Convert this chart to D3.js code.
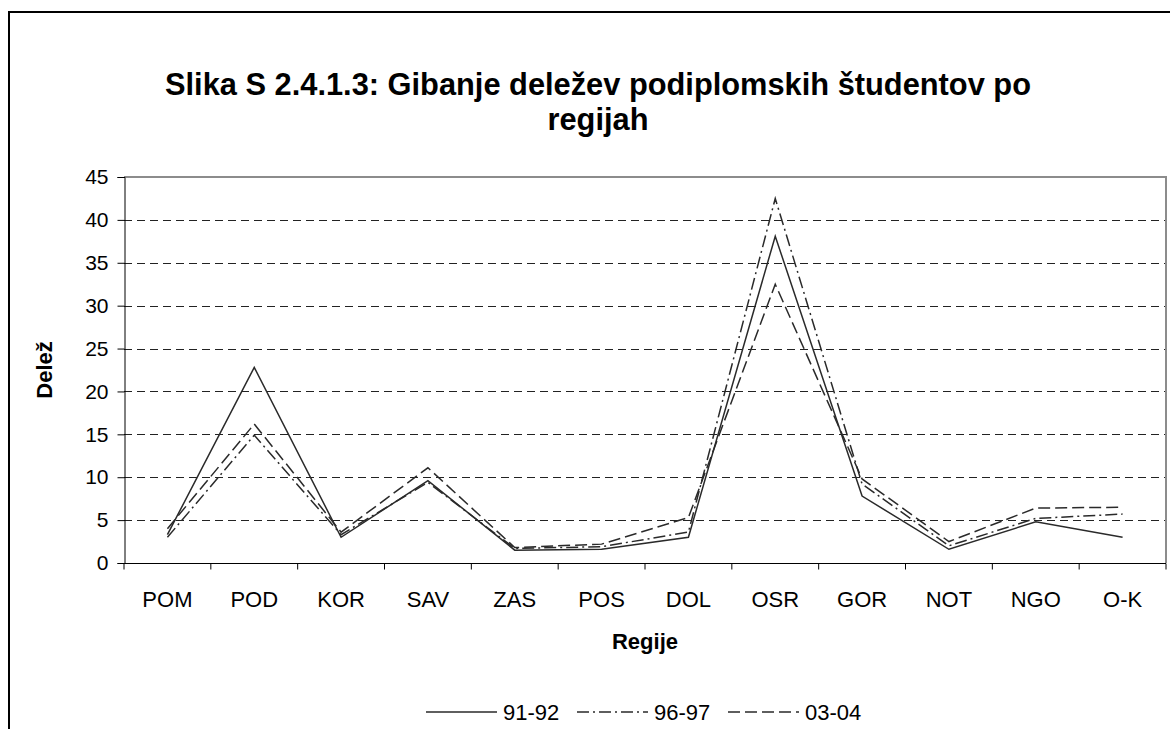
<!DOCTYPE html>
<html>
<head>
<meta charset="utf-8">
<script src="https://cdn.jsdelivr.net/npm/d3@7"></script>
<style>
  body { margin: 0; background: #fff; }
  svg { display: block; font-family: "Liberation Sans", Arial, sans-serif; }
</style>
</head>
<body>
<script>
'use strict';

// regions on the x axis
const regions = ["POM", "POD", "KOR", "SAV", "ZAS", "POS", "DOL", "OSR", "GOR", "NOT", "NGO", "O-K"];
// shares per year
const s9192 = [3.3, 22.8, 3.0, 9.6, 1.5, 1.6, 3.0, 38.1, 7.8, 1.6, 4.8, 3.0];
const s9697 = [3.0, 14.9, 3.3, 9.4, 1.7, 1.9, 3.6, 42.5, 9.2, 2.0, 5.2, 5.7];
const s0304 = [4.0, 16.2, 3.6, 11.1, 1.8, 2.2, 5.3, 32.5, 9.8, 2.5, 6.4, 6.5];
const seriesNames = ["91-92", "96-97", "03-04"];
const yTicks = [0, 5, 10, 15, 20, 25, 30, 35, 40, 45];

const W = 1170, H = 729;
const plot = {left: 124, right: 1166, top: 177, bottom: 563};
const font = "'Liberation Sans', Arial, sans-serif";

const svg = d3.select("body").append("svg")
  .attr("width", W)
  .attr("height", H);

// outer chart border (right and bottom lie outside the picture)
svg.append("path")
  .attr("d", `M9,${H + 5}V12H${W + 5}`)
  .attr("fill", "none")
  .attr("stroke", "#000")
  .attr("stroke-width", 2);

// title
const title = svg.append("text")
  .attr("x", 598)
  .attr("y", 95)
  .attr("text-anchor", "middle")
  .style("font-size", "30.8px")
  .style("font-weight", "bold");
title.append("tspan").attr("x", 598).text("Slika S 2.4.1.3: Gibanje deležev podiplomskih študentov po");
title.append("tspan").attr("x", 598).attr("dy", 35).text("regijah");

const x = d3.scaleBand()
  .domain(regions)
  .range([plot.left, plot.right]);
const y = d3.scaleLinear()
  .domain([0, 45])
  .range([plot.bottom, plot.top]);

// dashed grid lines
svg.append("g")
  .selectAll("line")
  .data(yTicks.filter(t => t > 0 && t < 45))
  .enter()
  .append("line")
  .attr("x1", plot.left)
  .attr("x2", plot.right)
  .attr("y1", d => Math.round(y(d)) + 0.5)
  .attr("y2", d => Math.round(y(d)) + 0.5)
  .attr("stroke", "#222")
  .attr("stroke-dasharray", "8,5");

// plot area border, top and right in grey
svg.append("path")
  .attr("d", `M${plot.left},${plot.top}H${plot.right}V${plot.bottom}`)
  .attr("fill", "none")
  .attr("stroke", "#8c8c8c")
  .attr("stroke-width", 2);

// y axis
const yAxis = svg.append("g")
  .attr("transform", `translate(${plot.left + 0.5},0)`)
  .call(d3.axisLeft(y).tickValues(yTicks).tickSize(7).tickPadding(9));
yAxis.select(".domain").attr("stroke", "#000");
yAxis.selectAll("text")
  .style("font-size", "21px")
  .style("font-family", font)
  .attr("fill", "#000");

// x axis with ticks between categories
const xAxis = svg.append("g")
  .attr("transform", `translate(0,${plot.bottom + 0.5})`)
  .call(d3.axisBottom(x).tickSize(0).tickPadding(28));
xAxis.select(".domain").attr("stroke", "#000").attr("d", `M${plot.left},0H${plot.right}`);
xAxis.selectAll("text")
  .style("font-size", "22px")
  .style("font-family", font)
  .attr("fill", "#000");
xAxis.selectAll(".sep")
  .data(regions.concat(["end"]))
  .enter()
  .append("line")
  .attr("class", "sep")
  .attr("x1", (d, i) => plot.left + i * x.bandwidth())
  .attr("x2", (d, i) => plot.left + i * x.bandwidth())
  .attr("y1", 0)
  .attr("y2", 6)
  .attr("stroke", "#000");

// axis titles
svg.append("text")
  .attr("x", (plot.left + plot.right) / 2)
  .attr("y", 649)
  .attr("text-anchor", "middle")
  .style("font-size", "22px")
  .style("font-weight", "bold")
  .text("Regije");

svg.append("text")
  .attr("transform", `translate(52,${(plot.top + plot.bottom) / 2})rotate(-90)`)
  .attr("text-anchor", "middle")
  .style("font-size", "22px")
  .style("font-weight", "bold")
  .text("Delež");

// series lines
const dashes = ["none", "12,4,2,4", "12,5"];
const seriesData = [s9192, s9697, s0304];
const line = d3.line()
  .x((d, i) => x(regions[i]) + x.bandwidth() / 2)
  .y(d => y(d));

seriesData.forEach((vals, k) => {
  svg.append("path")
    .datum(vals)
    .attr("d", line)
    .attr("fill", "none")
    .attr("stroke", "#2a2a2a")
    .attr("stroke-width", 1.5)
    .attr("stroke-dasharray", dashes[k]);
});

// legend
const legendX = [426, 577, 728];
seriesNames.forEach((name, k) => {
  const g = svg.append("g").attr("transform", `translate(${legendX[k]},712)`);
  g.append("line")
    .attr("x1", 0).attr("x2", 71)
    .attr("y1", 0).attr("y2", 0)
    .attr("stroke", "#2a2a2a")
    .attr("stroke-width", 1.5)
    .attr("stroke-dasharray", dashes[k]);
  g.append("text")
    .attr("x", 77)
    .attr("y", 8)
    .style("font-size", "22px")
    .text(name);
});
</script>
</body>
</html>
